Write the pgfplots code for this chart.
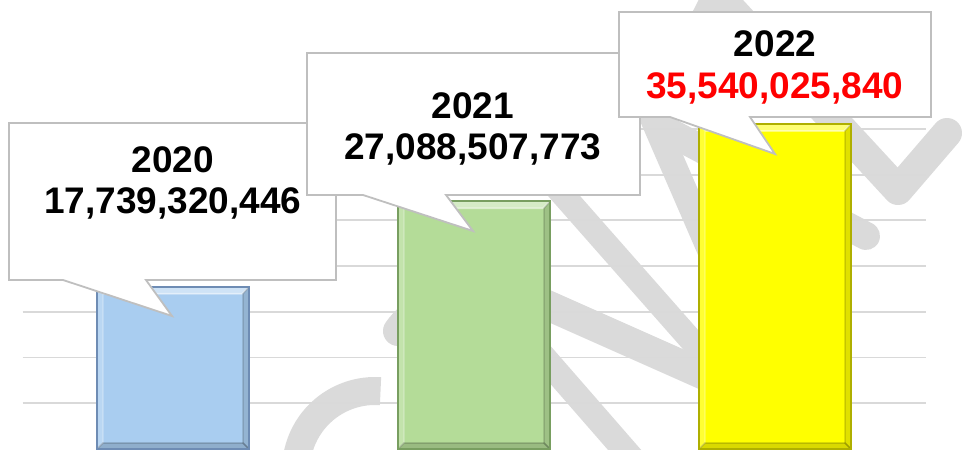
\documentclass[border=0pt]{standalone}
\usepackage{fontspec}
\setmainfont{Liberation Sans}
\usepackage{pgfplots}
\pgfplotsset{compat=1.18}
\definecolor{wm}{RGB}{218,218,218}
\definecolor{gridc}{RGB}{217,217,217}
\definecolor{cbox}{RGB}{191,191,191}
\definecolor{b1}{RGB}{169,205,240}
\definecolor{b1d}{RGB}{110,140,180}
\definecolor{b2}{RGB}{180,220,152}
\definecolor{b2d}{RGB}{120,158,96}
\definecolor{b3}{RGB}{255,255,0}
\definecolor{b3d}{RGB}{175,175,0}
\tikzset{nopp/.style={path picture={}}}
\newcommand\bevelcode{%
  \fill[nopp, white, opacity=0.45] (path picture bounding box.north west) -- (path picture bounding box.north east) -- ([xshift=-3.5pt,yshift=-3.5pt]path picture bounding box.north east) -- ([xshift=3.5pt,yshift=-3.5pt]path picture bounding box.north west) -- cycle;
  \fill[nopp, white, opacity=0.2] (path picture bounding box.north west) -- ([xshift=3pt,yshift=-3.5pt]path picture bounding box.north west) -- ([xshift=3pt,yshift=3pt]path picture bounding box.south west) -- (path picture bounding box.south west) -- cycle;
  \fill[nopp, black, opacity=0.12] (path picture bounding box.north east) -- ([xshift=-3pt,yshift=-3.5pt]path picture bounding box.north east) -- ([xshift=-3pt,yshift=3pt]path picture bounding box.south east) -- (path picture bounding box.south east) -- cycle;
  \fill[nopp, black, opacity=0.15] (path picture bounding box.south west) -- ([xshift=3pt,yshift=3pt]path picture bounding box.south west) -- ([xshift=-3pt,yshift=3pt]path picture bounding box.south east) -- (path picture bounding box.south east) -- cycle;
}
\tikzset{bevel/.style={path picture={\bevelcode}}}
\begin{document}
\begin{tikzpicture}
% watermark (decoration behind the chart)
\begin{scope}
\clip (0,0) rectangle (481pt,224.5pt);
\draw[wm, line width=14pt] ([shift={(190:39.5pt)}]187.5pt,-10.5pt) arc[start angle=190, end angle=86, radius=39.5pt];
\begin{scope}[x=0.5pt,y=-0.5pt,shift={(0,224.5pt)}]
\draw[wm, line width=15pt, line cap=round] (398,331) .. controls (425,292) and (500,283) .. (549,306) -- (720,382);
\draw[wm, line width=12pt] (520,146) -- (720,373);
\draw[wm, line width=12.5pt] (500,307) -- (690,525);
\draw[wm, line width=13pt] (645,100) -- (730,296);
\draw[wm, line width=14pt, line cap=round] (660,127) -- (866,236);
\draw[wm, line width=15pt, line cap=round, line join=round] (695,40) -- (718,-5) -- (898,190) -- (947,133);
\end{scope}
\end{scope}
\begin{axis}[
  at={(11.25pt,0pt)}, anchor=south west,
  scale only axis, width=451.5pt, height=224.5pt,
  xmin=-0.5, xmax=2.5, ymin=0, ymax=49.1,
  ybar, bar width=76pt, bar shift=0pt,
  ytick={5,10,15,20,25,30,35}, yticklabels={},
  xtick=\empty,
  ymajorgrids, grid style={gridc, line width=0.9pt},
  major tick length=0pt,
  axis line style={draw=none},
]
\addplot[fill=b1, draw=b1d, line width=0.8pt, bevel] coordinates {(0,17.739320446)};
\addplot[fill=b2, draw=b2d, line width=0.8pt, bevel] coordinates {(1,27.088507773)};
\addplot[fill=b3, draw=b3d, line width=0.8pt, bevel] coordinates {(2,35.540025840)};
\end{axis}
% callouts
\begin{scope}[x=0.5pt,y=-0.5pt,shift={(0,224.5pt)}]
\tikzset{lbl/.style={font=\fontsize{18.5}{20}\selectfont\bfseries, anchor=base, inner sep=0pt}}
\draw[cbox, line width=0.9pt, fill=white] (9,123) -- (336,123) -- (336,280) -- (146,280) -- (172,316) -- (63,280) -- (9,280) -- cycle;
\node[lbl] at (173,173) {2020};
\node[lbl] at (173,214) {17,739,320,446};
\draw[cbox, line width=0.9pt, fill=white] (307,53) -- (640,53) -- (640,195) -- (446,195) -- (473,231) -- (363,195) -- (307,195) -- cycle;
\node[lbl] at (473,119) {2021};
\node[lbl] at (473,160) {27,088,507,773};
\draw[cbox, line width=0.9pt, fill=white] (619,12) -- (931,12) -- (931,117) -- (750,117) -- (775,154) -- (670,117) -- (619,117) -- cycle;
\node[lbl] at (775,57) {2022};
\node[lbl, text=red] at (775,99) {35,540,025,840};
\end{scope}
\pgfresetboundingbox
\path[use as bounding box] (0,0) rectangle (481pt,224.5pt);
\end{tikzpicture}
\end{document}
